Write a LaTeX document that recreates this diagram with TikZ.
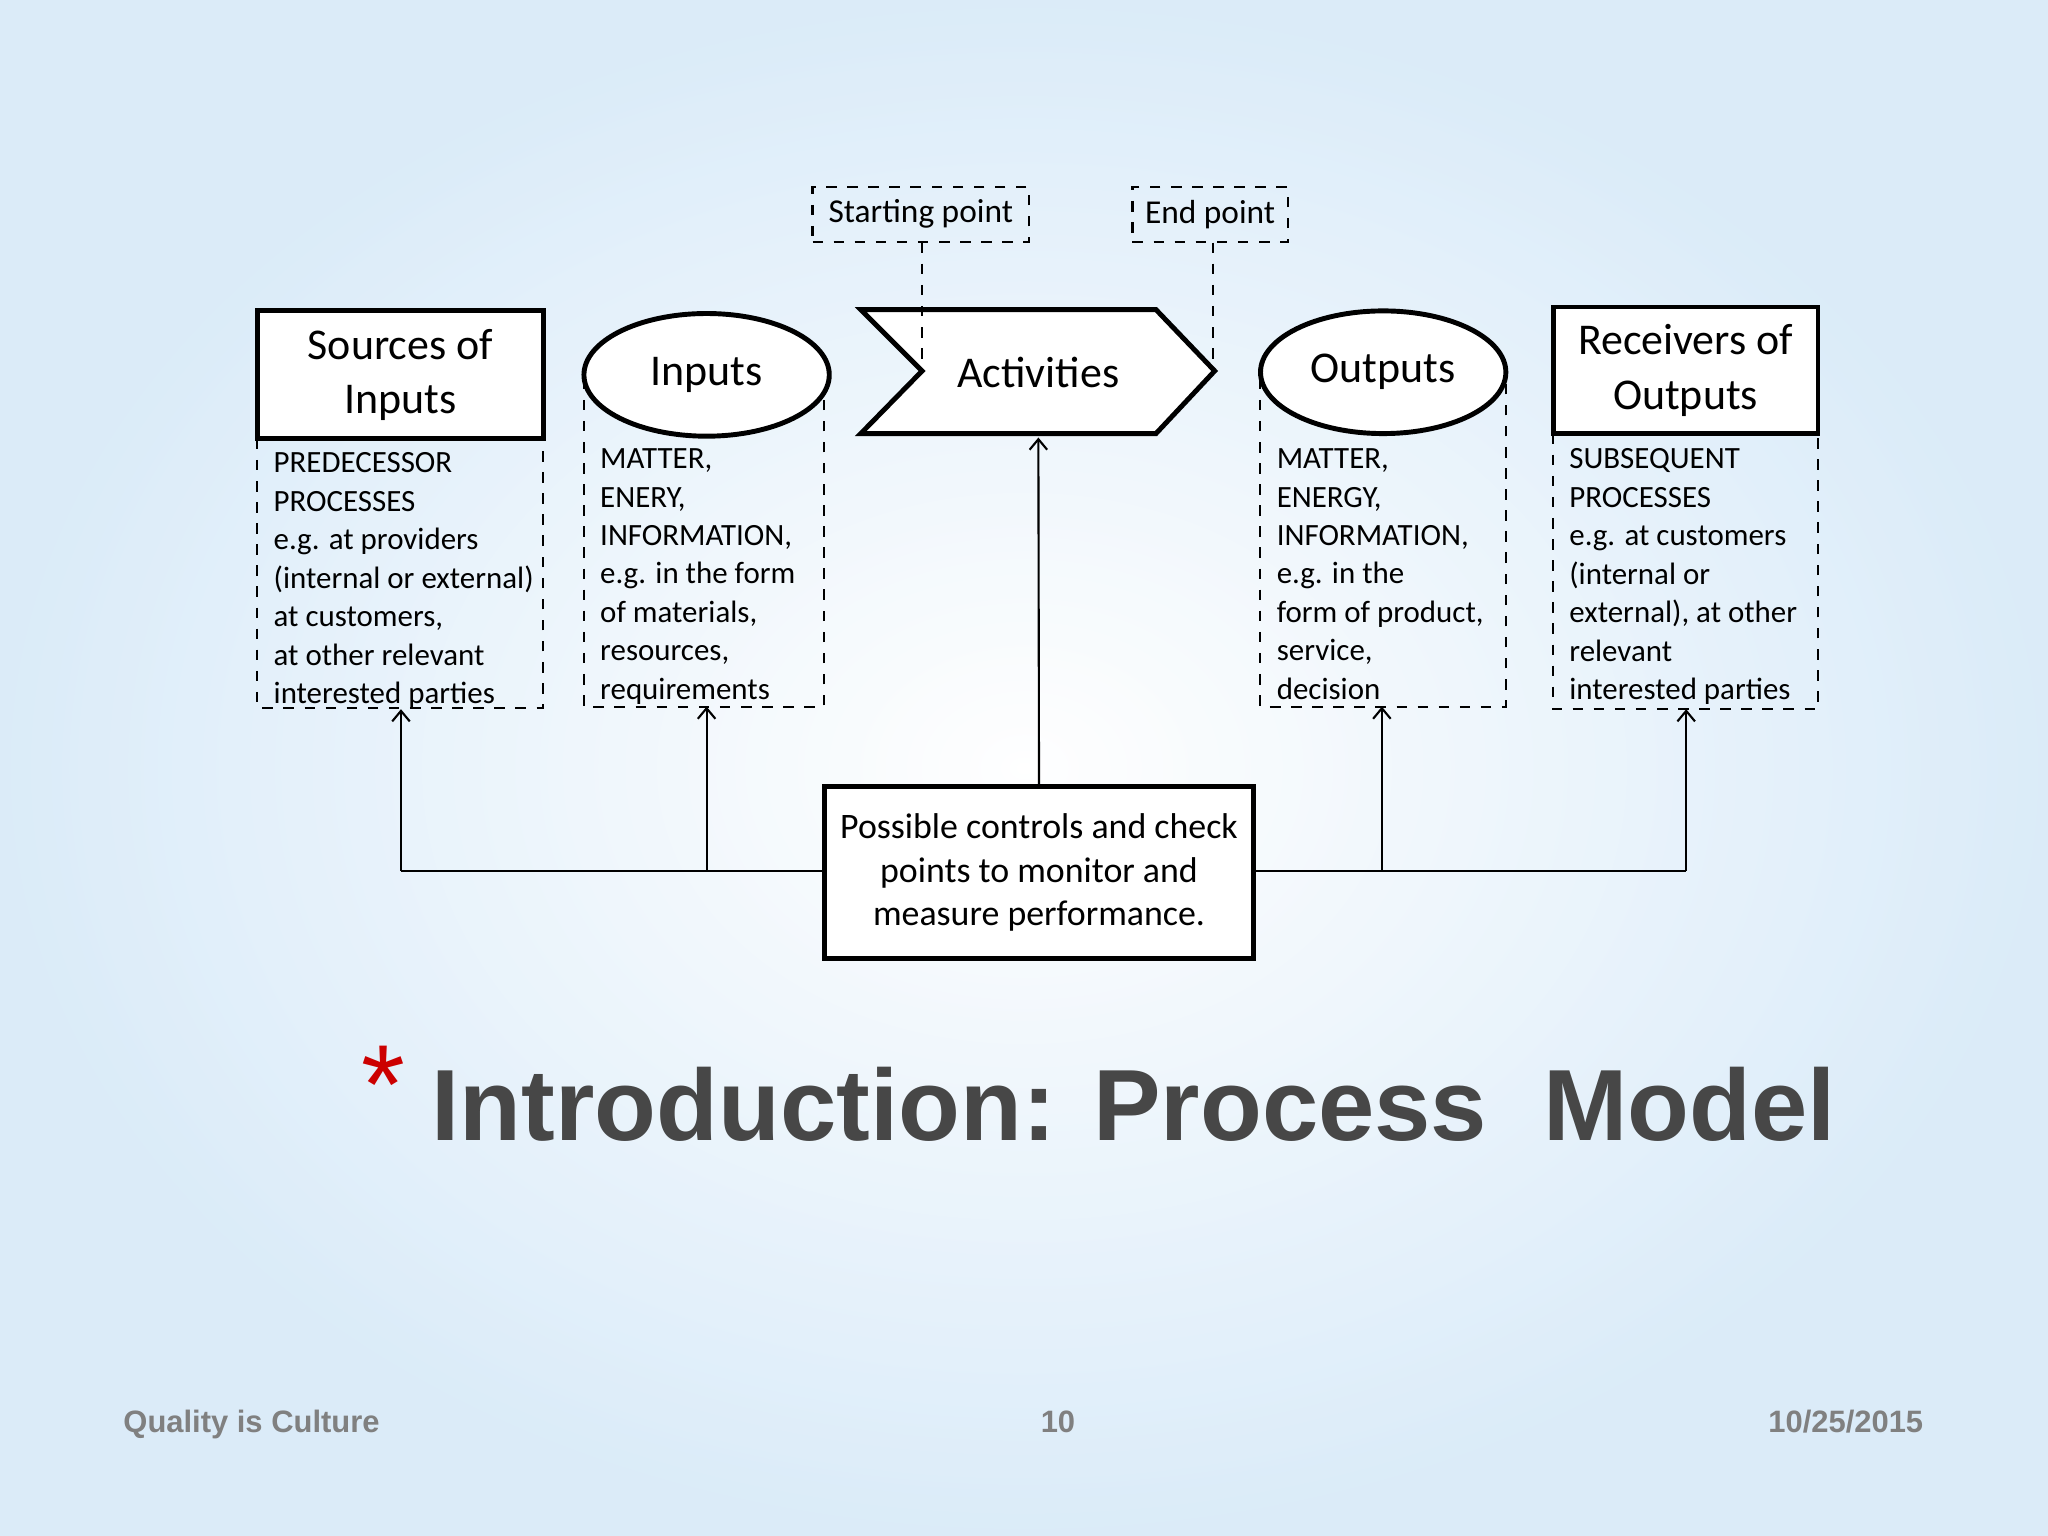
\documentclass[tikz,border=0pt]{standalone}
\usepackage{fontspec}
\setmainfont{Carlito}
\newfontfamily\arialf{Liberation Sans}
\usetikzlibrary{arrows.meta,shapes.geometric}
\definecolor{bgblue}{RGB}{178,214,242}
\begin{document}
\begin{tikzpicture}[x=0.013061cm,y=-0.013061cm,
  thickbox/.style={draw,line width=1.4pt},
  dbox/.style={draw,dashed,line width=0.6pt},
  small/.style={font=\fontsize{8.8}{10.95}\selectfont,align=left,inner sep=0pt,anchor=north west},
  big/.style={font=\fontsize{12.5}{15.5}\selectfont,align=center},
  conn/.style={line width=0.6pt},
  arr/.style={conn,-{Straight Barb[length=3pt,width=5pt]}}]
\path[inner color=white,outer color=bgblue!85] (0,0) rectangle (1568,1176);
\path[fill=white,opacity=0.45] (0,0) rectangle (1568,1176);
\useasboundingbox (0,0) rectangle (1568,1176);
% top labels
\node[dbox,minimum width=166*0.3713pt,minimum height=42*0.3713pt,font=\fontsize{9.5}{12}\selectfont] (sp) at (705,164) {Starting point};
\node[dbox,minimum width=119*0.3713pt,minimum height=42*0.3713pt,font=\fontsize{9.5}{12}\selectfont] (ep) at (926.5,164) {End point};
% sources
\draw[dbox] (197,336) rectangle (416,542);
\node[thickbox,fill=white,minimum width=219*0.3713pt,minimum height=98*0.3713pt,big] (src) at (306.5,287) {Sources of\\Inputs};
\node[small] (srct) at (209,346) {PREDECESSOR\\PROCESSES\\e.g. at providers\\(internal or external)\\at customers,\\at other relevant\\interested parties};
% inputs
\draw[dbox] (447,290) -- (447,541) -- (631,541) -- (631,290);
\node[ellipse,thickbox,fill=white,minimum width=188*0.3713pt,minimum height=94*0.3713pt,big] (in) at (541,287) {Inputs};
\node[small] (int) at (459,343) {MATTER,\\ENERY,\\INFORMATION,\\e.g. in the form\\of materials,\\resources,\\requirements};
% activities
\draw[thickbox,fill=white] (659,237) -- (885,237) -- (930,284) -- (885,332) -- (659,332) -- (706,284) -- cycle;
\node[big] (act) at (795,285) {Activities};
\coordinate (spe) at (706,284);
\coordinate (epe) at (929,284);
\draw[dbox] (sp.south -| spe) -- (spe);
\draw[dbox] (ep.south -| epe) -- (epe);
\coordinate (actb) at (795,335);
% outputs
\draw[dbox] (965,290) -- (965,541) -- (1153,541) -- (1153,290);
\node[ellipse,thickbox,fill=white,minimum width=188*0.3713pt,minimum height=94*0.3713pt,big] (out) at (1059,285) {Outputs};
\node[small] (outt) at (977,343) {MATTER,\\ENERGY,\\INFORMATION,\\e.g. in the\\form of product,\\service,\\decision};
% receivers
\draw[dbox] (1189,332) rectangle (1392,543);
\node[thickbox,fill=white,minimum width=203*0.3713pt,minimum height=97*0.3713pt,big] (rec) at (1290.5,283.5) {Receivers of\\Outputs};
\node[small] (rect) at (1201,343) {SUBSEQUENT\\PROCESSES\\e.g. at customers\\(internal or\\external), at other\\relevant\\interested parties};
% controls
\node[thickbox,fill=white,minimum width=329*0.3713pt,minimum height=132*0.3713pt,font=\fontsize{10.2}{12.5}\selectfont,align=center] (ctl) at (795.5,668) {Possible controls and check\\points to monitor and\\measure performance.};
\coordinate (a1) at (307,543);
\coordinate (a2) at (541,541);
\coordinate (a3) at (1058,541);
\coordinate (a4) at (1291,543);
\draw[arr] (ctl.north) -- (actb);
\draw[conn] (ctl.west |- 0,667) -- (307,667);
\draw[conn] (ctl.east |- 0,667) -- (1291,667);
\draw[arr] (a1 |- 0,667) -- (a1);
\draw[arr] (a2 |- 0,667) -- (a2);
\draw[arr] (a3 |- 0,667) -- (a3);
\draw[arr] (a4 |- 0,667) -- (a4);
% title
\node[anchor=base west,inner sep=0pt,font=\arialf\fontsize{32}{32}\selectfont,text=red!80!black] (ast) at (276,860) {*};
\node[anchor=base west,inner sep=0pt,font=\arialf\bfseries\fontsize{28.8}{30}\selectfont,text=black!72] (title) at (330,873) {Introduction: Process\ \ Model};
% footer
\node[anchor=base west,inner sep=0pt,font=\arialf\bfseries\fontsize{8.8}{10}\selectfont,text=black!50] (f1) at (94,1097) {Quality is Culture};
\node[anchor=base,inner sep=0pt,font=\arialf\bfseries\fontsize{8.8}{10}\selectfont,text=black!50] (f2) at (810,1097) {10};
\node[anchor=base east,inner sep=0pt,font=\arialf\bfseries\fontsize{8.8}{10}\selectfont,text=black!50] (f3) at (1473,1097) {10/25/2015};
\end{tikzpicture}
\end{document}
